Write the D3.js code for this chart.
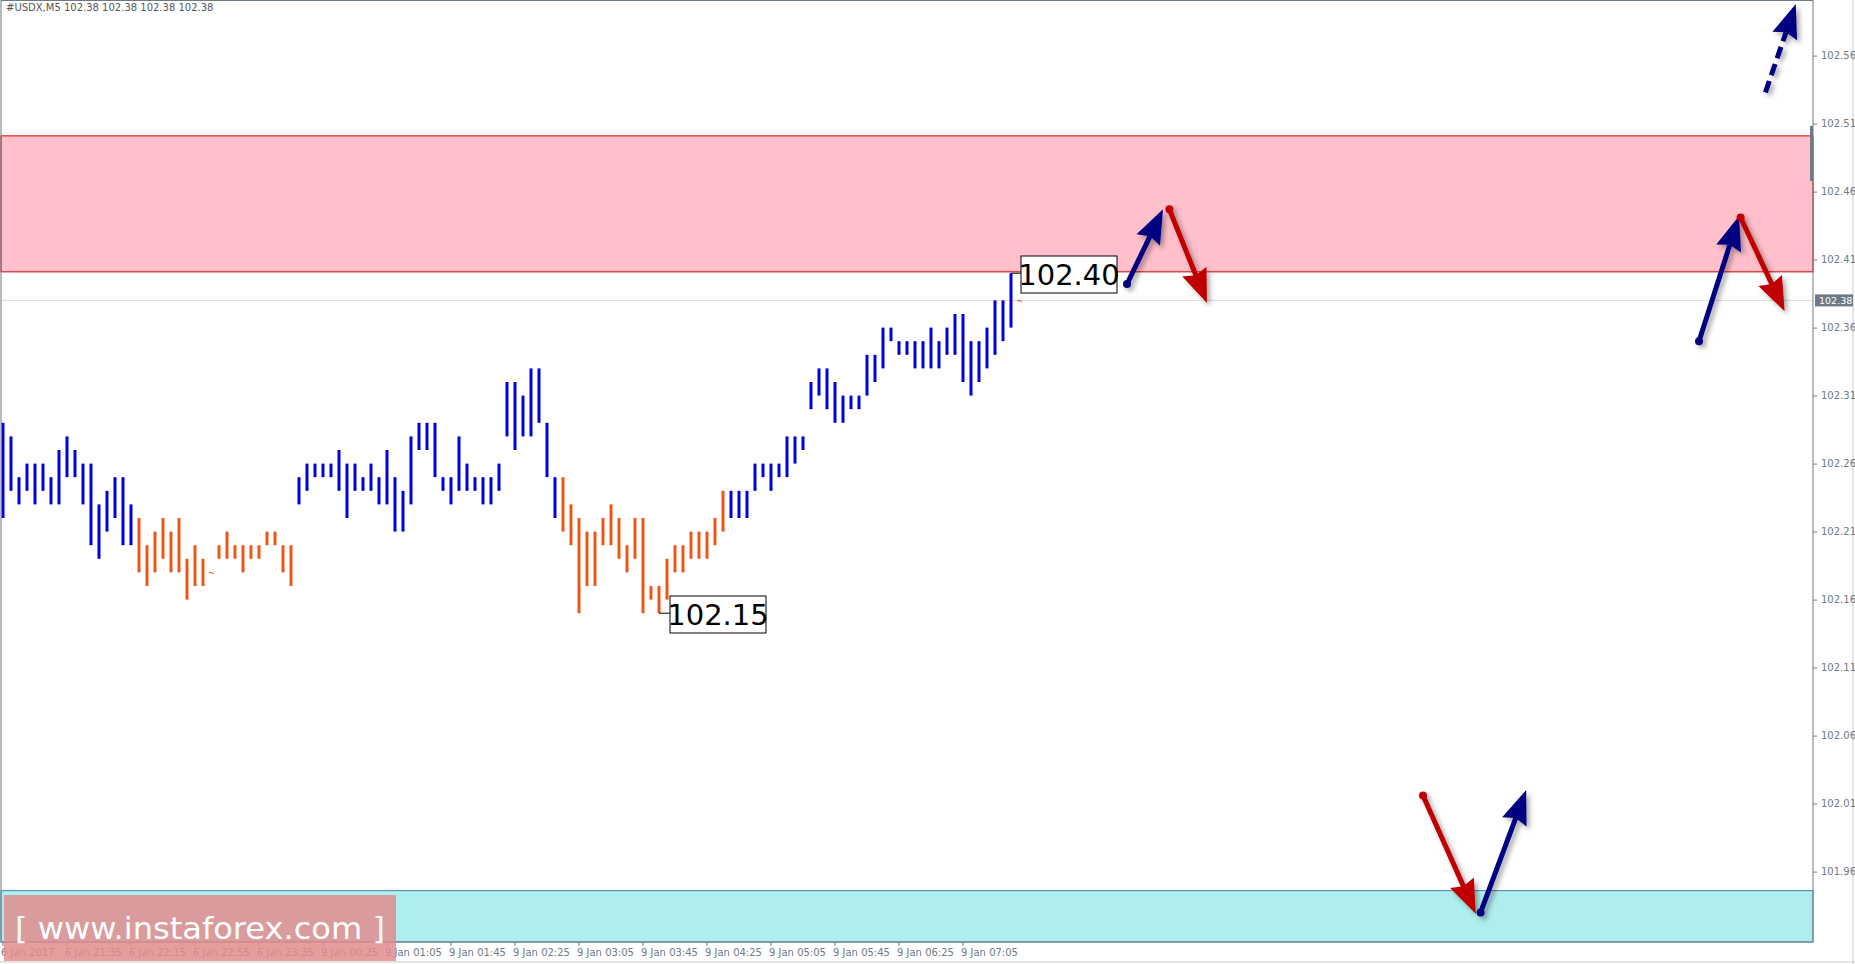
<!DOCTYPE html>
<html><head><meta charset="utf-8">
<script src="https://cdn.jsdelivr.net/npm/d3@7"></script>
<style>body{margin:0;background:#fff}svg{display:block}</style>
</head><body>
<div id="chart-area"></div>
<script>
// bar highs / lows (USDX M5)
var highs = [102.29,102.28,102.25,102.26,102.26,102.26,102.25,102.27,102.28,102.27,102.26,102.26,102.23,102.24,102.25,102.25,102.23,
  102.22,102.20,102.21,102.22,102.21,102.22,102.19,102.20,102.19,102.18,102.20,102.21,102.20,102.20,102.20,102.20,102.21,102.21,102.20,102.20,
  102.25,102.26,102.26,102.26,102.26,102.27,102.26,102.26,102.25,102.26,102.25,102.27,102.25,102.24,102.28,102.29,102.29,102.29,102.25,102.25,
  102.28,102.26,102.25,102.25,102.25,102.26,102.32,102.32,102.31,102.33,102.33,102.29,102.25,
  102.25,102.23,102.22,102.21,102.21,102.22,102.23,102.22,102.20,102.22,102.22,102.17,102.17,102.19,102.20,102.20,102.21,102.21,102.21,102.22,102.24,
  102.24,102.24,102.24,102.26,102.26,102.26,102.26,102.28,102.28,102.28,102.32,102.33,102.33,102.32,102.31,102.31,102.31,102.34,102.34,102.36,
  102.36,102.35,102.35,102.35,102.35,102.36,102.35,102.36,102.37,102.37,102.35,102.35,102.36,102.38,102.38,102.40,102.38];
var lows = [102.22,102.24,102.23,102.24,102.23,102.24,102.23,102.23,102.25,102.25,102.23,102.20,102.19,102.21,102.22,102.20,102.20,
  102.18,102.17,102.18,102.19,102.18,102.18,102.16,102.17,102.17,102.18,102.19,102.19,102.19,102.18,102.19,102.19,102.20,102.20,102.18,102.17,
  102.23,102.24,102.25,102.25,102.25,102.24,102.22,102.24,102.24,102.24,102.23,102.23,102.21,102.21,102.23,102.27,102.27,102.25,102.24,102.23,
  102.24,102.24,102.24,102.23,102.23,102.24,102.28,102.27,102.28,102.28,102.29,102.25,102.22,
  102.21,102.20,102.15,102.17,102.17,102.20,102.20,102.19,102.18,102.19,102.15,102.16,102.15,102.16,102.18,102.18,102.19,102.19,102.19,102.20,102.21,
  102.22,102.22,102.22,102.24,102.25,102.24,102.25,102.25,102.26,102.27,102.30,102.31,102.30,102.29,102.29,102.30,102.30,102.31,102.32,102.33,
  102.35,102.34,102.34,102.33,102.33,102.33,102.33,102.34,102.34,102.32,102.31,102.32,102.33,102.34,102.35,102.36,102.38];
var colors = "bbbbbbbbbbbbbbbbboooooooooooooooooooobbbbbbbbbbbbbbbbbbbbbbbbbbbbbbbbbooooooooooooooooooooobbbbbbbbbbbbbbbbbbbbbbbbbbbbbbbbbbbbo".split("");
var priceTicks = [102.56,102.51,102.46,102.41,102.36,102.31,102.26,102.21,102.16,102.11,102.06,102.01,101.96];
var timeLabels = ["6 Jan 2017","6 Jan 21:35","6 Jan 22:15","6 Jan 22:55","6 Jan 23:35","9 Jan 00:25","9 Jan 01:05","9 Jan 01:45",
  "9 Jan 02:25","9 Jan 03:05","9 Jan 03:45","9 Jan 04:25","9 Jan 05:05","9 Jan 05:45","9 Jan 06:25","9 Jan 07:05"];
var lastPrice = 102.38;
var resistZone = [102.401, 102.501];
var supportTop = 101.946;
// forecast arrows: [startBar, startPrice, endBar, endPrice, colour, dashed]
var arrows = [
  [140.5,102.392,145,102.447,"b",0],
  [145.8,102.447,150.5,102.378,"r",0],
  [212,102.350,217,102.442,"b",0],
  [217.2,102.441,222.7,102.372,"r",0],
  [220.3,102.533,224.1,102.598,"b",1],
  [177.5,102.016,184.1,101.929,"r",0],
  [184.7,101.930,190.4,102.020,"b",0]
];

var W = 1855, H = 964, right = 1813, bottom = 942;
var svg = d3.select("#chart-area").append("svg").attr("width", W).attr("height", H)
  .style("font-family", "Tahoma, 'DejaVu Sans', sans-serif");
var defs = svg.append("defs");
var f = defs.append("filter").attr("id","sh").attr("x","-50%").attr("y","-50%").attr("width","200%").attr("height","200%");
f.append("feDropShadow").attr("dx",3).attr("dy",3).attr("stdDeviation",2.5).attr("flood-color","#000").attr("flood-opacity",0.35);

var y = d3.scaleLinear().domain([102.56, 101.96]).range([55.6, 871.6]);
var x = d3.scaleLinear().domain([0, 1]).range([3, 11]);

// zones
svg.append("rect").attr("x",1).attr("width",right-1).attr("y",y(resistZone[1])).attr("height",y(resistZone[0])-y(resistZone[1]))
  .attr("fill","#ffc0cb").attr("stroke","#d40000").attr("stroke-width",1);
svg.append("rect").attr("x",1).attr("width",right-1).attr("y",y(supportTop)).attr("height",bottom-y(supportTop))
  .attr("fill","#afeeee").attr("stroke","#4682b4").attr("stroke-width",1);
svg.append("line").attr("x1",1).attr("x2",right).attr("y1",y(lastPrice)).attr("y2",y(lastPrice)).attr("stroke","#ddd");

// bars
svg.selectAll("line.bar").data(highs).enter().append("line").attr("class","bar")
  .attr("x1",function(d,i){return x(i);}).attr("x2",function(d,i){return x(i);})
  .attr("y1",function(d){return y(d);})
  .attr("y2",function(d,i){return highs[i]===lows[i] ? y(lows[i])+1 : y(lows[i]);})
  .attr("stroke",function(d,i){return colors[i]==="o" ? "#ef5418" : "#0000dd";})
  .attr("stroke-width",function(d,i){return highs[i]===lows[i] ? 1 : 3;})
  .each(function(d,i){ if(highs[i]===lows[i]) d3.select(this).attr("x1",x(i)-2).attr("x2",x(i)+3); });

// price boxes
function priceBox(i, p, bx, by, txt){
  var yy = y(p);
  svg.append("path").attr("d","M"+x(i)+","+yy+"H"+bx).attr("stroke","#000").attr("fill","none");
  svg.append("rect").attr("x",bx).attr("y",by).attr("width",96).attr("height",37).attr("fill","#fff").attr("stroke","#000");
  svg.append("text").attr("x",bx+48).attr("y",by+29).attr("text-anchor","middle").attr("font-size",29).text(txt);
}
priceBox(126, 102.40, 1021, 256, "102.40");
priceBox(82, 102.15, 670, 596, "102.15");

// arrows
var col = {b:"#000080", r:"#c00000"};
arrows.forEach(function(a){
  var x1=x(a[0]), y1=y(a[1]), x2=x(a[2]), y2=y(a[3]);
  var ang=Math.atan2(y2-y1,x2-x1), L=30, Wd=13;
  var bx=x2-L*Math.cos(ang), by=y2-L*Math.sin(ang);
  var g=svg.append("g").attr("filter","url(#sh)");
  g.append("line").attr("x1",x1).attr("y1",y1).attr("x2",bx).attr("y2",by).attr("stroke",col[a[4]]).attr("stroke-width",5)
    .attr("stroke-dasharray",a[5]?"12,6":null);
  var px=-Math.sin(ang), py=Math.cos(ang);
  var back=x2-(L+4)*Math.cos(ang), backy=y2-(L+4)*Math.sin(ang);
  g.append("path").attr("d","M"+x2+","+y2+"L"+(back+px*Wd)+","+(backy+py*Wd)+"L"+(bx)+","+(by)+"L"+(back-px*Wd)+","+(backy-py*Wd)+"Z")
    .attr("fill",col[a[4]]);
  if(!a[5]) g.append("circle").attr("cx",x1).attr("cy",y1).attr("r",4).attr("fill",col[a[4]]);
});

// frame
svg.append("rect").attr("x",1).attr("y",0.5).attr("width",right-1).attr("height",bottom-0.5).attr("fill","none").attr("stroke","#6e7b85");
svg.append("line").attr("x1",W-2).attr("x2",W-2).attr("y1",0).attr("y2",H).attr("stroke","#ccc");
svg.append("line").attr("x1",0).attr("x2",W).attr("y1",H-2).attr("y2",H-2).attr("stroke","#ccc");

// price axis
var ax = svg.append("g").attr("transform","translate("+right+",0)")
  .call(d3.axisRight(y).tickValues(priceTicks).tickSize(4).tickFormat(d3.format(".2f")));
ax.select(".domain").remove();
ax.selectAll("line").attr("stroke","#6e7b85");
ax.selectAll("text").attr("fill","#6e7b85").attr("font-size",10).attr("x",8).attr("font-family","Tahoma, 'DejaVu Sans', sans-serif");
svg.append("rect").attr("x",right+2).attr("y",y(lastPrice)-6).attr("width",38).attr("height",12).attr("fill","#6e7b85");
svg.append("text").attr("x",right+6).attr("y",y(lastPrice)+4).attr("fill","#fff").attr("font-size",9.5).text(lastPrice.toFixed(2));
svg.append("rect").attr("x",right-3).attr("y",126).attr("width",3).attr("height",55).attr("fill","#6e7b85");

// time axis
var tg = svg.selectAll("g.t").data(timeLabels).enter().append("g").attr("class","t")
  .attr("transform",function(d,i){return "translate("+x(i*8)+","+bottom+")";});
tg.append("line").attr("y1",0).attr("y2",4).attr("stroke","#6e7b85");
tg.append("text").attr("x",-2).attr("y",14).attr("font-size",10).attr("fill","#6e7b85").text(function(d){return d;});

// title
svg.append("text").attr("x",6).attr("y",11).attr("font-size",10).attr("fill","#555").text("#USDX,M5  102.38 102.38 102.38 102.38");

// watermark
svg.append("rect").attr("x",4).attr("y",895).attr("width",392).attr("height",66).attr("fill","#e08c8c").attr("opacity",0.85);
svg.append("text").attr("x",200).attr("y",939).attr("text-anchor","middle").attr("font-size",31).attr("fill","#fff")
  .attr("textLength",370).attr("lengthAdjust","spacingAndGlyphs")
  .attr("font-family","Tahoma, 'DejaVu Sans', sans-serif").text("[ www.instaforex.com ]");
</script>
</body></html>
